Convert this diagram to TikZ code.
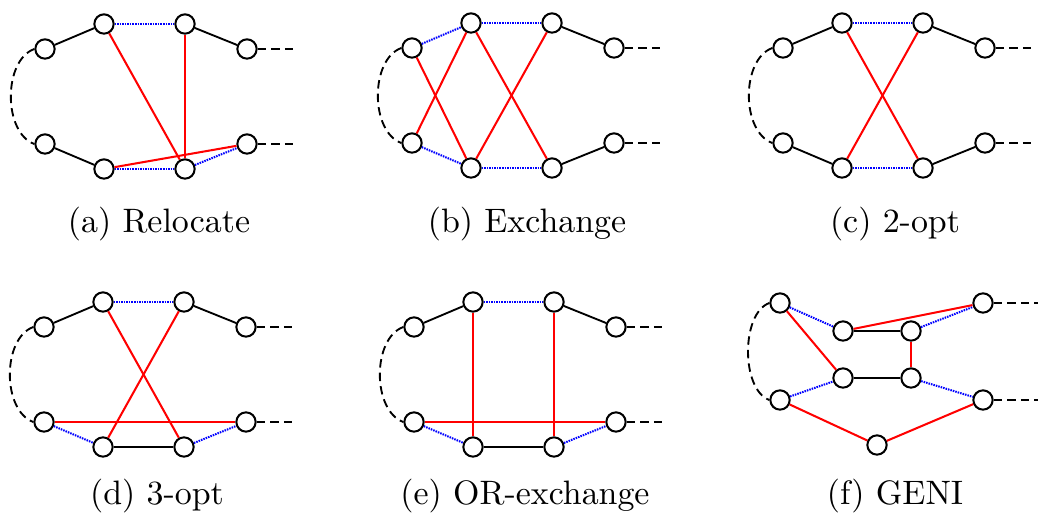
\documentclass[tikz,border=0pt]{standalone}
\begin{document}
\begin{tikzpicture}[x=0.295pt,y=-0.295pt,
  vtx/.style={circle, draw=black, fill=white, line width=0.6pt, minimum size=5.7pt, inner sep=0pt},
  blk/.style={line width=0.55pt, black},
  rd/.style={line width=0.6pt, red},
  bl/.style={line width=0.6pt, blue, dash pattern=on 0.45pt off 0.3pt},
  tail/.style={line width=0.55pt, black, dash pattern=on 2.5pt off 1.5pt},
  captxt/.style={anchor=base, inner sep=0pt, font=\normalsize}]
\useasboundingbox (0,0) rectangle (1040,527);
\newcommand\stdpanel[3]{%
  \node[vtx] (#1L1) at (#2,#3) {};
  \node[vtx] (#1T1) at ({#2+59},{#3-25}) {};
  \node[vtx] (#1T2) at ({#2+140},{#3-25}) {};
  \node[vtx] (#1R1) at ({#2+202},{#3}) {};
  \node[vtx] (#1L2) at (#2,{#3+95}) {};
  \node[vtx] (#1B1) at ({#2+59},{#3+120}) {};
  \node[vtx] (#1B2) at ({#2+140},{#3+120}) {};
  \node[vtx] (#1R2) at ({#2+202},{#3+95}) {};
  \coordinate (#1E1) at ({#2+253},{#3});
  \coordinate (#1E2) at ({#2+253},{#3+95});
  \draw[tail] (#1L1.west) to[out=200,in=160,looseness=0.9] (#1L2.west);
  \draw[tail] (#1R1) -- (#1E1);
  \draw[tail] (#1R2) -- (#1E2);
}
% (a) Relocate
\stdpanel{a}{45}{49}
\draw[blk] (aL1) -- (aT1);
\draw[bl] (aT1) -- (aT2);
\draw[blk] (aT2) -- (aR1);
\draw[blk] (aL2) -- (aB1);
\draw[bl] (aB1) -- (aB2);
\draw[bl] (aB2) -- (aR2);
\draw[rd] (aT1) -- (aB2);
\draw[rd] (aT2) -- (aB2);
\draw[rd] (aB1) -- (aR2);
\node[captxt] (capa) at (159,233) {(a) Relocate};
% (b) Exchange
\stdpanel{b}{412}{48}
\draw[bl] (bL1) -- (bT1);
\draw[bl] (bT1) -- (bT2);
\draw[blk] (bT2) -- (bR1);
\draw[bl] (bL2) -- (bB1);
\draw[bl] (bB1) -- (bB2);
\draw[blk] (bB2) -- (bR2);
\draw[rd] (bL1) -- (bB1);
\draw[rd] (bL2) -- (bT1);
\draw[rd] (bT1) -- (bB2);
\draw[rd] (bB1) -- (bT2);
\node[captxt] (capb) at (527,233) {(b) Exchange};
% (c) 2-opt
\stdpanel{c}{783}{48}
\draw[blk] (cL1) -- (cT1);
\draw[bl] (cT1) -- (cT2);
\draw[blk] (cT2) -- (cR1);
\draw[blk] (cL2) -- (cB1);
\draw[bl] (cB1) -- (cB2);
\draw[blk] (cB2) -- (cR2);
\draw[rd] (cT1) -- (cB2);
\draw[rd] (cT2) -- (cB1);
\node[captxt] (capc) at (895,233) {(c) 2-opt};
% (d) 3-opt
\stdpanel{d}{44}{327}
\draw[blk] (dL1) -- (dT1);
\draw[bl] (dT1) -- (dT2);
\draw[blk] (dT2) -- (dR1);
\draw[bl] (dL2) -- (dB1);
\draw[blk] (dB1) -- (dB2);
\draw[bl] (dB2) -- (dR2);
\draw[rd] (dT1) -- (dB2);
\draw[rd] (dT2) -- (dB1);
\draw[rd] (dL2) -- (dR2);
\node[captxt] (capd) at (157,505) {(d) 3-opt};
% (e) OR-exchange
\stdpanel{e}{414}{327}
\draw[blk] (eL1) -- (eT1);
\draw[bl] (eT1) -- (eT2);
\draw[blk] (eT2) -- (eR1);
\draw[bl] (eL2) -- (eB1);
\draw[blk] (eB1) -- (eB2);
\draw[bl] (eB2) -- (eR2);
\draw[rd] (eT1) -- (eB1);
\draw[rd] (eT2) -- (eB2);
\draw[rd] (eL2) -- (eR2);
\node[captxt] (cape) at (525,505) {(e) OR-exchange};
% (f) GENI
\node[vtx] (fA) at (780,303) {};
\node[vtx] (fB) at (843,331) {};
\node[vtx] (fC) at (911,331) {};
\node[vtx] (fD) at (983,303) {};
\node[vtx] (fE) at (843,378) {};
\node[vtx] (fF) at (911,378) {};
\node[vtx] (fG) at (780,400) {};
\node[vtx] (fH) at (983,400) {};
\node[vtx] (fI) at (877,445) {};
\coordinate (fE1) at (1038,303);
\coordinate (fE2) at (1038,400);
\draw[tail] (fA.west) to[out=200,in=160,looseness=0.8] (fG.west);
\draw[tail] (fD) -- (fE1);
\draw[tail] (fH) -- (fE2);
\draw[bl] (fA) -- (fB);
\draw[blk] (fB) -- (fC);
\draw[bl] (fC) -- (fD);
\draw[rd] (fA) -- (fE);
\draw[rd] (fB) -- (fD);
\draw[rd] (fC) -- (fF);
\draw[blk] (fE) -- (fF);
\draw[bl] (fG) -- (fE);
\draw[bl] (fF) -- (fH);
\draw[rd] (fG) -- (fI);
\draw[rd] (fI) -- (fH);
\node[captxt] (capf) at (895,505) {(f) GENI};
\end{tikzpicture}
\end{document}
